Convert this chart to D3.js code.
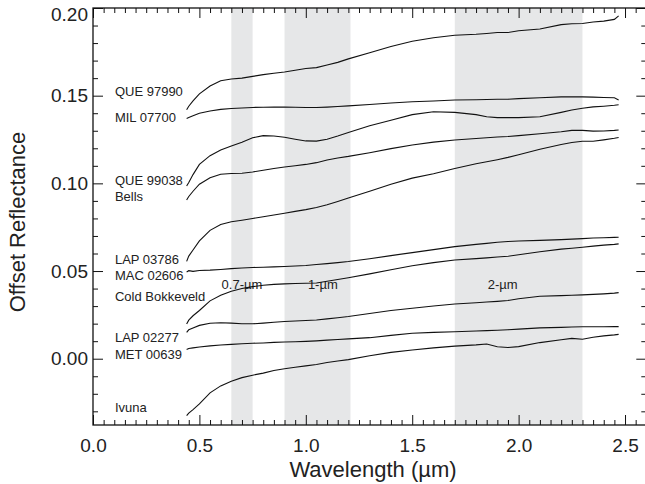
<!DOCTYPE html>
<html>
<head>
<meta charset="utf-8">
<script src="https://cdn.jsdelivr.net/npm/d3@7"></script>
<style>
  html, body { margin: 0; padding: 0; background: #fff; }
  svg { display: block; font-family: "Liberation Sans", Arial, Helvetica, sans-serif; }
</style>
</head>
<body>
<svg id="chart" width="645" height="484"></svg>
<script>
// Wavelength grid (µm) shared by every spectrum
const wavelength = [0.44, 0.45, 0.47, 0.50, 0.55, 0.60, 0.65, 0.70, 0.75, 0.80, 0.85, 0.90,
  0.95, 1.00, 1.05, 1.10, 1.15, 1.20, 1.30, 1.40, 1.50, 1.60, 1.70, 1.80, 1.85, 1.90,
  1.95, 2.00, 2.10, 2.20, 2.25, 2.30, 2.35, 2.40, 2.45, 2.47];

// Sample names, top to bottom
const samples = ["QUE 97990", "MIL 07700", "QUE 99038", "Bells", "LAP 03786",
  "MAC 02606", "Cold Bokkeveld", "LAP 02277", "MET 00639", "Ivuna"];

// Offset reflectance of each sample on the wavelength grid
const que97990 = [0.142, 0.144, 0.147, 0.151, 0.1555, 0.1585, 0.1595, 0.160, 0.161, 0.162, 0.1628, 0.1635,
  0.1645, 0.1655, 0.166, 0.1675, 0.169, 0.171, 0.1745, 0.178, 0.181, 0.183, 0.1845, 0.185, 0.1855, 0.186,
  0.186, 0.187, 0.188, 0.1905, 0.191, 0.1912, 0.192, 0.1925, 0.1935, 0.1955];
const mil07700 = [0.137, 0.1375, 0.1385, 0.140, 0.1413, 0.1422, 0.1427, 0.143, 0.1433, 0.1434, 0.1435, 0.1435,
  0.1434, 0.1433, 0.1433, 0.1435, 0.1438, 0.1442, 0.1450, 0.1458, 0.1465, 0.147, 0.1475, 0.1477, 0.1478, 0.148,
  0.148, 0.1483, 0.1488, 0.1493, 0.1494, 0.1493, 0.1492, 0.149, 0.1488, 0.1475];
const que99038 = [0.0985, 0.1005, 0.105, 0.1108, 0.1158, 0.119, 0.1213, 0.1235, 0.126, 0.1272, 0.127, 0.1263,
  0.1252, 0.1242, 0.1241, 0.1252, 0.127, 0.129, 0.1328, 0.136, 0.1392, 0.1408, 0.1405, 0.1392, 0.138, 0.1375,
  0.1375, 0.1375, 0.138, 0.1405, 0.1418, 0.1428, 0.1436, 0.144, 0.1445, 0.1448];
const bells = [0.0905, 0.0925, 0.0955, 0.0995, 0.1032, 0.1052, 0.1056, 0.1058, 0.1065, 0.1075, 0.1085, 0.1093,
  0.110, 0.1108, 0.1118, 0.1133, 0.1145, 0.1154, 0.1175, 0.1198, 0.1219, 0.1235, 0.1247, 0.1256, 0.126, 0.1264,
  0.1267, 0.1272, 0.1283, 0.1294, 0.1302, 0.1302, 0.1298, 0.1299, 0.1302, 0.1304];
const lap03786 = [0.0555, 0.0585, 0.062, 0.0672, 0.0732, 0.0765, 0.0781, 0.079, 0.080, 0.081, 0.082, 0.083,
  0.084, 0.085, 0.0862, 0.0878, 0.0897, 0.0917, 0.0955, 0.0995, 0.103, 0.1055, 0.1085, 0.1112, 0.1123, 0.1135,
  0.1148, 0.1163, 0.1195, 0.1222, 0.1233, 0.124, 0.124, 0.1248, 0.1257, 0.1262];
const mac02606 = [0.0495, 0.0502, 0.0498, 0.0503, 0.0505, 0.0509, 0.0514, 0.0517, 0.052, 0.0522, 0.0524, 0.0526,
  0.0529, 0.0532, 0.0537, 0.0542, 0.0548, 0.0554, 0.057, 0.0588, 0.0605, 0.0622, 0.0639, 0.0652, 0.0658, 0.0664,
  0.0668, 0.0671, 0.0675, 0.0679, 0.0682, 0.0685, 0.0688, 0.069, 0.0692, 0.0693];
const coldBokkeveld = [0.0198, 0.022, 0.0245, 0.0275, 0.033, 0.0362, 0.0385, 0.040, 0.0411, 0.0419, 0.0424, 0.0427,
  0.0429, 0.043, 0.0432, 0.0442, 0.0452, 0.0462, 0.0484, 0.0507, 0.053, 0.0548, 0.0563, 0.0571, 0.0575, 0.058,
  0.0584, 0.0593, 0.061, 0.0625, 0.063, 0.0636, 0.0642, 0.0648, 0.0652, 0.0655];
const lap02277 = [0.015, 0.0165, 0.0175, 0.019, 0.0202, 0.0205, 0.0203, 0.0199, 0.0199, 0.0203, 0.0208, 0.0212,
  0.0215, 0.0218, 0.0221, 0.0227, 0.0234, 0.0241, 0.0258, 0.0275, 0.0288, 0.0301, 0.0312, 0.0319, 0.0323, 0.0327,
  0.0332, 0.0342, 0.0356, 0.036, 0.0362, 0.0364, 0.0367, 0.037, 0.0374, 0.0377];
const met00639 = [0.0052, 0.0058, 0.0062, 0.0067, 0.0073, 0.0078, 0.0082, 0.0085, 0.0088, 0.009, 0.0093, 0.0095,
  0.0097, 0.0099, 0.0102, 0.0106, 0.011, 0.0113, 0.012, 0.0133, 0.0145, 0.015, 0.0154, 0.0158, 0.016, 0.0162,
  0.0165, 0.0169, 0.0176, 0.0179, 0.0181, 0.0182, 0.0182, 0.0182, 0.0183, 0.0183];
const ivuna = [-0.0325, -0.031, -0.029, -0.0258, -0.0195, -0.0155, -0.0128, -0.0108, -0.0094, -0.0082, -0.0067, -0.0057,
  -0.0049, -0.0041, -0.0033, -0.0022, -0.0013, -0.0005, 0.0017, 0.0036, 0.005, 0.0062, 0.0072, 0.0079, 0.0084, 0.0068,
  0.0064, 0.0069, 0.0092, 0.0108, 0.0116, 0.0111, 0.0122, 0.013, 0.0136, 0.0139];

const spectra = [que97990, mil07700, que99038, bells, lap03786, mac02606, coldBokkeveld, lap02277, met00639, ivuna];

// Reflectance level at which each sample name is written
const labelAt = [0.1522, 0.1378, 0.1019, 0.0924, 0.0568, 0.0477, 0.0353, 0.0122, 0.0027, -0.0277];

// Absorption band windows (µm) and their captions
const bandStart = [0.65, 0.90, 1.70];
const bandEnd = [0.75, 1.21, 2.30];
const bandNames = ["0.7-\u00b5m", "1-\u00b5m", "2-\u00b5m"];
const bandLabelX = [0.70, 1.08, 1.925];
const bandLabelY = 0.0425;

// Axis ticks
const xMajor = [0.0, 0.5, 1.0, 1.5, 2.0, 2.5];
const yMajor = [0.00, 0.05, 0.10, 0.15, 0.20];

const margin = { left: 93, top: 8, right: 646.3, bottom: 425 };
const svg = d3.select("#chart");

const x = d3.scaleLinear().domain([0, 2.6]).range([margin.left, margin.right]);
const y = d3.scaleLinear().domain([-0.0378, 0.20]).range([margin.bottom, margin.top]);

const xMinor = d3.range(0, 53).map(i => +(i * 0.05).toFixed(2)).filter(v => !xMajor.includes(v));
const yMinor = d3.range(-3, 21).map(i => +(i * 0.01).toFixed(2)).filter(v => !yMajor.includes(v));

// Gray band windows spanning the full plot height
svg.append("g").selectAll("rect")
  .data(bandStart)
  .join("rect")
  .attr("x", (d, i) => x(d))
  .attr("width", (d, i) => x(bandEnd[i]) - x(d))
  .attr("y", y(0.20))
  .attr("height", y(-0.0378) - y(0.20))
  .attr("fill", "#e6e7e8");

// Band captions
svg.append("g").selectAll("text")
  .data(bandNames)
  .join("text")
  .attr("x", (d, i) => x(bandLabelX[i]))
  .attr("y", y(bandLabelY))
  .attr("dy", "0.35em")
  .attr("text-anchor", "middle")
  .attr("font-size", 13)
  .attr("fill", "#222")
  .text(d => d);

// Spectra
const line = d3.line()
  .x((d, i) => x(wavelength[i]))
  .y(d => y(d));

svg.append("g").selectAll("path")
  .data(spectra)
  .join("path")
  .attr("d", line)
  .attr("fill", "none")
  .attr("stroke", "#111")
  .attr("stroke-width", 1.1);

// Sample names
svg.append("g").selectAll("text")
  .data(samples)
  .join("text")
  .attr("x", x(0.103))
  .attr("y", (d, i) => y(labelAt[i]))
  .attr("dy", "0.35em")
  .attr("font-size", 13)
  .attr("fill", "#222")
  .text(d => d);

// Axes: inward ticks on all four sides
function styleAxis(g) {
  g.select(".domain").remove();
  g.selectAll(".tick line").attr("stroke", "#111").attr("stroke-width", 1);
  g.selectAll(".tick text").attr("fill", "#222").attr("font-size", 19)
    .attr("font-family", "'Liberation Sans', Arial, sans-serif");
}

const fmtX = d3.format(".1f");
const fmtY = d3.format(".2f");

svg.append("g").attr("transform", `translate(0,${margin.bottom})`)
  .call(d3.axisBottom(x).tickValues(xMajor).tickFormat(fmtX).tickSizeInner(-10).tickSizeOuter(0).tickPadding(14))
  .call(styleAxis);
svg.append("g").attr("transform", `translate(0,${margin.bottom})`)
  .call(d3.axisBottom(x).tickValues(xMinor).tickFormat("").tickSizeInner(-5).tickSizeOuter(0))
  .call(styleAxis);
svg.append("g").attr("transform", `translate(0,${margin.top})`)
  .call(d3.axisTop(x).tickValues(xMajor).tickFormat("").tickSizeInner(-10).tickSizeOuter(0))
  .call(styleAxis);
svg.append("g").attr("transform", `translate(0,${margin.top})`)
  .call(d3.axisTop(x).tickValues(xMinor).tickFormat("").tickSizeInner(-5).tickSizeOuter(0))
  .call(styleAxis);

const yAxisG = svg.append("g").attr("transform", `translate(${margin.left},0)`)
  .call(d3.axisLeft(y).tickValues(yMajor).tickFormat(fmtY).tickSizeInner(-10).tickSizeOuter(0).tickPadding(5))
  .call(styleAxis);
// keep the top label inside the picture
yAxisG.selectAll(".tick text").filter(d => d === 0.20).attr("dy", "0.66em");

svg.append("g").attr("transform", `translate(${margin.left},0)`)
  .call(d3.axisLeft(y).tickValues(yMinor).tickFormat("").tickSizeInner(-5).tickSizeOuter(0))
  .call(styleAxis);
svg.append("g").attr("transform", `translate(${margin.right},0)`)
  .call(d3.axisRight(y).tickValues(yMajor).tickFormat("").tickSizeInner(-10).tickSizeOuter(0))
  .call(styleAxis);
svg.append("g").attr("transform", `translate(${margin.right},0)`)
  .call(d3.axisRight(y).tickValues(yMinor).tickFormat("").tickSizeInner(-5).tickSizeOuter(0))
  .call(styleAxis);

// Plot frame
svg.append("rect")
  .attr("x", margin.left).attr("y", margin.top)
  .attr("width", margin.right - margin.left).attr("height", margin.bottom - margin.top)
  .attr("fill", "none").attr("stroke", "#111").attr("stroke-width", 1.3);

// Axis titles
svg.append("text")
  .attr("x", 373).attr("y", 477)
  .attr("text-anchor", "middle")
  .attr("font-size", 22)
  .attr("fill", "#222")
  .text("Wavelength (\u00b5m)");

svg.append("text")
  .attr("transform", "translate(25,222) rotate(-90)")
  .attr("text-anchor", "middle")
  .attr("font-size", 22)
  .attr("fill", "#222")
  .text("Offset Reflectance");
</script>
</body>
</html>
